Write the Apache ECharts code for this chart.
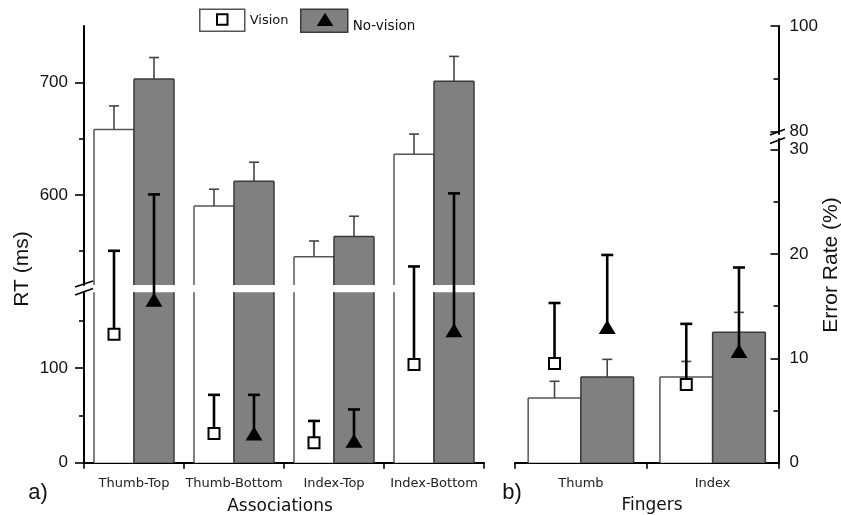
<!DOCTYPE html>
<html>
<head>
<meta charset="utf-8">
<script src="https://cdn.jsdelivr.net/npm/echarts@6/dist/echarts.min.js"></script>
<style>
html,body{margin:0;padding:0;background:#fff;}
#chart{width:841px;height:515px;}
</style>
</head>
<body>
<div id="chart"></div>
<script>
// ---------- data ----------
const assocCats = ['Thumb-Top', 'Thumb-Bottom', 'Index-Top', 'Index-Bottom'];
const fingerCats = ['Thumb', 'Index'];

// RT bars (ms), left panel
const rtVision = [658, 590, 545, 636];
const rtVisionSE = [21, 15, 14, 18];
const rtNoVision = [703, 612, 563, 701];
const rtNoVisionSE = [19, 17, 18, 22];

// Error-rate markers (%), left panel
const errAssocVision = [12.3, 2.8, 1.9, 9.4];
const errAssocVisionSE = [8.0, 3.7, 2.1, 9.4];
const errAssocNoVision = [15.6, 2.8, 2.1, 12.7];
const errAssocNoVisionSE = [10.1, 3.7, 3.0, 13.1];

// Right panel bars and markers (%)
const fingerBarVision = [6.2, 8.2];
const fingerBarVisionSE = [1.6, 1.5];
const fingerBarNoVision = [8.2, 12.5];
const fingerBarNoVisionSE = [1.7, 1.9];
const fingerErrVision = [9.5, 7.5];
const fingerErrVisionSE = [5.8, 5.8];
const fingerErrNoVision = [13.0, 10.7];
const fingerErrNoVisionSE = [6.9, 8.0];

// axis segments and ticks
const rtLowRange = [0, 180];
const rtLowTicks = [0, 100];
const rtLowMinor = [50, 150];
const rtHighRange = [520, 750];
const rtHighTicks = [600, 700];
const rtHighMinor = [550, 650];
const errLowRange = [0, 31];
const errLowTicks = [0, 10, 20, 30];
const errLowMinor = [5, 15, 25];
const errHighRange = [79.5, 100];
const errHighTicks = [80, 100];
const errHighMinor = [90];

// ---------- styles ----------
const WHITE = '#ffffff', GRAY = '#808080';
const EDGE_W = '#555555', EDGE_G = '#3a3a3a';
const NUM_FONT = '"Liberation Sans", Arial, sans-serif';
const TXT_FONT = '"DejaVu Sans", Verdana, sans-serif';

function pairs(vals, se) { return vals.map((v, i) => se ? [i, v, se[i]] : [i, v]); }

function barRenderer(offsetFrac, fill, edge) {
  return function (params, api) {
    const cs = params.coordSys;
    const cat = api.value(0), v = api.value(1);
    const band = api.size([1, 0])[0];
    const w = band * 0.4;
    const cx = api.coord([cat, v])[0] + offsetFrac * band;
    const yb = cs.y + cs.height;
    const yRaw = api.coord([cat, v])[1];
    const yt = Math.max(yRaw, cs.y);
    if (yt >= yb) return null;
    const x0 = cx - w / 2, x1 = cx + w / 2;
    const st = { stroke: edge, lineWidth: 1.5 };
    const children = [
      { type: 'rect', shape: { x: x0, y: yt, width: w, height: yb - yt }, style: { fill: fill } },
      { type: 'line', shape: { x1: x0, y1: yt, x2: x0, y2: yb }, style: st },
      { type: 'line', shape: { x1: x1, y1: yt, x2: x1, y2: yb }, style: st }
    ];
    if (yRaw >= cs.y) children.push({ type: 'line', shape: { x1: x0, y1: yt, x2: x1, y2: yt }, style: st });
    return { type: 'group', children: children };
  };
}

function barErrRenderer(offsetFrac) {
  return function (params, api) {
    const cat = api.value(0), v = api.value(1), e = api.value(2);
    const band = api.size([1, 0])[0];
    const p = api.coord([cat, v]);
    const x = p[0] + offsetFrac * band;
    const yt = api.coord([cat, v + e])[1];
    const st = { stroke: '#454545', lineWidth: 1.6 };
    return { type: 'group', children: [
      { type: 'line', shape: { x1: x, y1: p[1], x2: x, y2: yt }, style: st },
      { type: 'line', shape: { x1: x - 5, y1: yt, x2: x + 5, y2: yt }, style: st }
    ]};
  };
}

function markerRenderer(offsetFrac, kind) {
  return function (params, api) {
    const cat = api.value(0), v = api.value(1), e = api.value(2);
    const band = api.size([1, 0])[0];
    const p = api.coord([cat, v]);
    const x = p[0] + offsetFrac * band, y = p[1];
    const yt = api.coord([cat, v + e])[1];
    const st = { stroke: '#000', lineWidth: 2.6 };
    const children = [
      { type: 'line', shape: { x1: x, y1: y, x2: x, y2: yt }, style: st },
      { type: 'line', shape: { x1: x - 6, y1: yt, x2: x + 6, y2: yt }, style: st }
    ];
    if (kind === 'square') {
      children.push({ type: 'rect', shape: { x: x - 5.5, y: y - 5.5, width: 11, height: 11 },
        style: { fill: '#fff', stroke: '#000', lineWidth: 2 } });
    } else {
      children.push({ type: 'polygon', shape: { points: [[x, y - 7], [x + 8.5, y + 7], [x - 8.5, y + 7]] },
        style: { fill: '#000' } });
    }
    return { type: 'group', children: children };
  };
}

function hiddenCat(grid, cats) {
  return { type: 'category', gridIndex: grid, data: cats, show: false };
}
function mainCat(grid, cats) {
  return {
    type: 'category', gridIndex: grid, data: cats,
    axisLine: { show: true, lineStyle: { color: '#000', width: 2 } },
    axisTick: { show: true, length: 6, lineStyle: { color: '#000', width: 1.6 } },
    axisLabel: { show: true, interval: 0, margin: 14, fontFamily: TXT_FONT, fontSize: 13, color: '#222' },
    splitLine: { show: false }
  };
}
function centerTickCat(grid, cats) {
  return {
    type: 'category', gridIndex: grid, data: cats,
    axisLine: { show: false },
    axisTick: { show: true, alignWithLabel: true, length: 6, lineStyle: { color: '#000', width: 1.6 } },
    axisLabel: { show: false }, splitLine: { show: false }
  };
}
function valAxis(grid, range, ticks, pos, inside, showLine) {
  return {
    type: 'value', gridIndex: grid, min: range[0], max: range[1], position: pos,
    axisLine: { show: showLine, lineStyle: { color: '#000', width: 2 } },
    axisTick: { show: true, inside: inside, length: inside ? 8 : 9, customValues: ticks, lineStyle: { color: '#000', width: 1.6 } },
    axisLabel: { show: true, customValues: ticks, margin: inside ? 11 : 16, fontFamily: NUM_FONT, fontSize: 17, color: '#111' },
    splitLine: { show: false }
  };
}
function minorAxis(grid, range, ticks, pos, inside) {
  return {
    type: 'value', gridIndex: grid, min: range[0], max: range[1], position: pos,
    axisLine: { show: false },
    axisTick: { show: true, inside: inside, length: 5, customValues: ticks, lineStyle: { color: '#000', width: 1.6 } },
    axisLabel: { show: false }, splitLine: { show: false }
  };
}

const option = {
  animation: false,
  backgroundColor: '#fff',
  grid: [
    { left: 84, top: 292.2, width: 400, height: 170.5 },
    { left: 84, top: 26, width: 400, height: 258.9 },
    { left: 84, top: 139.1, width: 400, height: 323.6 },
    { left: 515, top: 139.1, width: 263.5, height: 323.6 },
    { left: 515, top: 26, width: 263.5, height: 108.1 }
  ],
  xAxis: [
    mainCat(0, assocCats),
    centerTickCat(0, assocCats),
    hiddenCat(1, assocCats),
    hiddenCat(2, assocCats),
    mainCat(3, fingerCats),
    centerTickCat(3, fingerCats),
    hiddenCat(4, fingerCats)
  ],
  yAxis: [
    valAxis(0, rtLowRange, rtLowTicks, 'left', false, true),
    minorAxis(0, rtLowRange, rtLowMinor, 'left', false),
    valAxis(1, rtHighRange, rtHighTicks, 'left', false, true),
    minorAxis(1, rtHighRange, rtHighMinor, 'left', false),
    { type: 'value', gridIndex: 2, min: errLowRange[0], max: errLowRange[1], show: false },
    valAxis(3, errLowRange, errLowTicks, 'right', true, true),
    minorAxis(3, errLowRange, errLowMinor, 'right', true),
    valAxis(4, errHighRange, errHighTicks, 'right', true, true),
    minorAxis(4, errHighRange, errHighMinor, 'right', true)
  ],
  legend: [
    {
      data: ['Vision'], left: 199, top: 8.5, padding: 0, icon: 'rect',
      itemWidth: 45, itemHeight: 22, selectedMode: false,
      itemStyle: { color: WHITE, borderColor: EDGE_W, borderWidth: 1.5 },
      textStyle: { fontFamily: TXT_FONT, fontSize: 13, color: '#111' }
    },
    {
      data: ['No-vision'], left: 300, top: 8.5, padding: 0, icon: 'rect',
      itemWidth: 47, itemHeight: 23, selectedMode: false,
      itemStyle: { color: GRAY, borderColor: EDGE_G, borderWidth: 1.5 },
      formatter: '{low|{name}}',
      textStyle: {
        fontFamily: TXT_FONT, fontSize: 13.5, color: '#111',
        rich: { low: { fontFamily: TXT_FONT, fontSize: 13.5, color: '#111', padding: [11, 0, 0, 0] } }
      }
    }
  ],
  series: [
    // left panel bars: lower segment
    { type: 'custom', name: 'Vision', xAxisIndex: 0, yAxisIndex: 0, z: 2, itemStyle: { color: WHITE },
      renderItem: barRenderer(-0.2, WHITE, EDGE_W), data: pairs(rtVision) },
    { type: 'custom', name: 'No-vision', xAxisIndex: 0, yAxisIndex: 0, z: 2, itemStyle: { color: GRAY },
      renderItem: barRenderer(0.2, GRAY, EDGE_G), data: pairs(rtNoVision) },
    // left panel bars: upper segment
    { type: 'custom', name: 'Vision', xAxisIndex: 2, yAxisIndex: 2, z: 2,
      renderItem: barRenderer(-0.2, WHITE, EDGE_W), data: pairs(rtVision) },
    { type: 'custom', name: 'No-vision', xAxisIndex: 2, yAxisIndex: 2, z: 2,
      renderItem: barRenderer(0.2, GRAY, EDGE_G), data: pairs(rtNoVision) },
    { type: 'custom', name: 'RT SE Vision', xAxisIndex: 2, yAxisIndex: 2, z: 3,
      renderItem: barErrRenderer(-0.2), data: pairs(rtVision, rtVisionSE) },
    { type: 'custom', name: 'RT SE No-vision', xAxisIndex: 2, yAxisIndex: 2, z: 3,
      renderItem: barErrRenderer(0.2), data: pairs(rtNoVision, rtNoVisionSE) },
    // left panel error-rate markers
    { type: 'custom', name: 'ER Vision', xAxisIndex: 3, yAxisIndex: 4, z: 5,
      renderItem: markerRenderer(-0.2, 'square'), data: pairs(errAssocVision, errAssocVisionSE) },
    { type: 'custom', name: 'ER No-vision', xAxisIndex: 3, yAxisIndex: 4, z: 5,
      renderItem: markerRenderer(0.2, 'triangle'), data: pairs(errAssocNoVision, errAssocNoVisionSE) },
    // right panel
    { type: 'custom', name: 'Vision', xAxisIndex: 4, yAxisIndex: 5, z: 2,
      renderItem: barRenderer(-0.2, WHITE, EDGE_W), data: pairs(fingerBarVision) },
    { type: 'custom', name: 'No-vision', xAxisIndex: 4, yAxisIndex: 5, z: 2,
      renderItem: barRenderer(0.2, GRAY, EDGE_G), data: pairs(fingerBarNoVision) },
    { type: 'custom', name: 'F SE Vision', xAxisIndex: 4, yAxisIndex: 5, z: 3,
      renderItem: barErrRenderer(-0.2), data: pairs(fingerBarVision, fingerBarVisionSE) },
    { type: 'custom', name: 'F SE No-vision', xAxisIndex: 4, yAxisIndex: 5, z: 3,
      renderItem: barErrRenderer(0.2), data: pairs(fingerBarNoVision, fingerBarNoVisionSE) },
    { type: 'custom', name: 'F ER Vision', xAxisIndex: 4, yAxisIndex: 5, z: 5,
      renderItem: markerRenderer(-0.2, 'square'), data: pairs(fingerErrVision, fingerErrVisionSE) },
    { type: 'custom', name: 'F ER No-vision', xAxisIndex: 4, yAxisIndex: 5, z: 5,
      renderItem: markerRenderer(0.2, 'triangle'), data: pairs(fingerErrNoVision, fingerErrNoVisionSE) }
  ],
  graphic: [
    // legend inner symbols
    { type: 'rect', shape: { x: 217, y: 14.2, width: 10.5, height: 10.5 },
      style: { fill: '#fff', stroke: '#000', lineWidth: 2 }, z: 100 },
    { type: 'polygon', shape: { points: [[325, 12.8], [333.3, 26], [316.7, 26]] },
      style: { fill: '#000' }, z: 100 },
    // axis break marks
    { type: 'line', shape: { x1: 75, y1: 287, x2: 93, y2: 281 }, style: { stroke: '#000', lineWidth: 1.6 }, z: 100 },
    { type: 'line', shape: { x1: 75, y1: 295, x2: 93, y2: 288.5 }, style: { stroke: '#000', lineWidth: 1.6 }, z: 100 },
    { type: 'line', shape: { x1: 770, y1: 135, x2: 785, y2: 129.3 }, style: { stroke: '#000', lineWidth: 1.6 }, z: 100 },
    { type: 'line', shape: { x1: 770, y1: 143.5, x2: 785, y2: 137.8 }, style: { stroke: '#000', lineWidth: 1.6 }, z: 100 },
    // axis names and panel labels
    { type: 'text', x: 22, y: 269, rotation: Math.PI / 2,
      style: { text: 'RT (ms)', fontFamily: NUM_FONT, fontSize: 21, fill: '#111', textAlign: 'center', textVerticalAlign: 'middle' } },
    { type: 'text', x: 831, y: 265, rotation: Math.PI / 2,
      style: { text: 'Error Rate (%)', fontFamily: NUM_FONT, fontSize: 21, fill: '#111', textAlign: 'center', textVerticalAlign: 'middle' } },
    { type: 'text', x: 38, y: 493,
      style: { text: 'a)', fontFamily: NUM_FONT, fontSize: 22, fill: '#111', textAlign: 'center', textVerticalAlign: 'middle' } },
    { type: 'text', x: 512, y: 493,
      style: { text: 'b)', fontFamily: NUM_FONT, fontSize: 22, fill: '#111', textAlign: 'center', textVerticalAlign: 'middle' } },
    { type: 'text', x: 280, y: 507,
      style: { text: 'Associations', fontFamily: TXT_FONT, fontSize: 17, fill: '#111', textAlign: 'center', textVerticalAlign: 'middle' } },
    { type: 'text', x: 652, y: 506,
      style: { text: 'Fingers', fontFamily: TXT_FONT, fontSize: 17, fill: '#111', textAlign: 'center', textVerticalAlign: 'middle' } }
  ]
};

const chart = echarts.init(document.getElementById('chart'), null, { renderer: 'canvas' });
chart.setOption(option);
</script>
</body>
</html>
